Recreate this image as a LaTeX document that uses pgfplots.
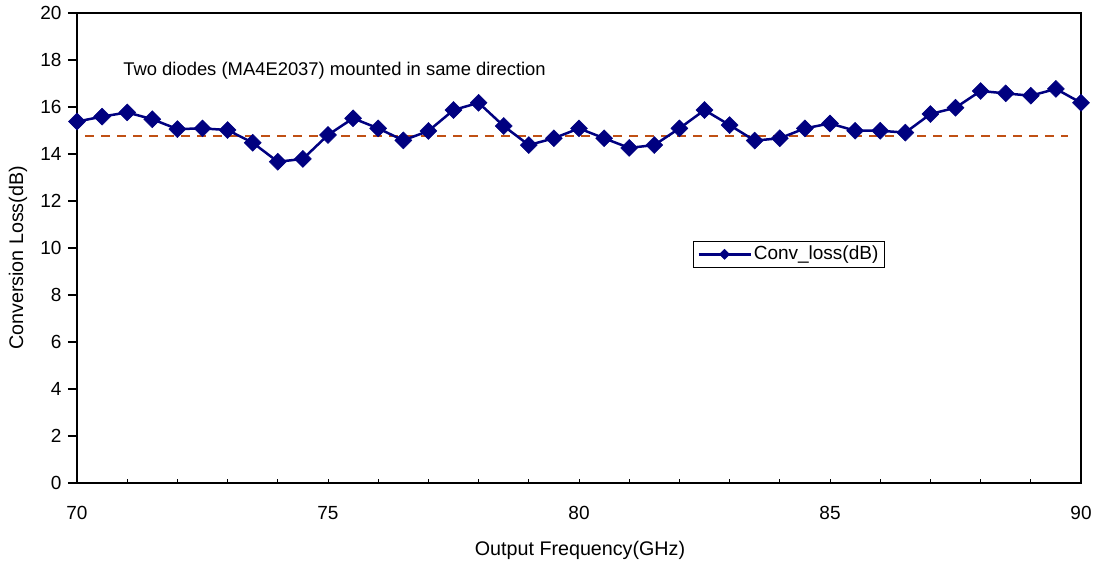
\documentclass[border=0pt]{standalone}
\usepackage{fontspec}
\setmainfont{Liberation Sans}
\usepackage{pgfplots}
\pgfplotsset{compat=1.18}
\definecolor{lossblue}{RGB}{0,0,128}
\definecolor{meanline}{RGB}{192,80,20}

% Conversion loss against output frequency
\pgfplotstableread{
f     loss
70.0  15.38
70.5  15.59
71.0  15.77
71.5  15.48
72.0  15.06
72.5  15.09
73.0  15.02
73.5  14.48
74.0  13.67
74.5  13.79
75.0  14.81
75.5  15.52
76.0  15.09
76.5  14.58
77.0  14.98
77.5  15.87
78.0  16.18
78.5  15.19
79.0  14.38
79.5  14.67
80.0  15.09
80.5  14.67
81.0  14.26
81.5  14.38
82.0  15.09
82.5  15.87
83.0  15.23
83.5  14.57
84.0  14.67
84.5  15.09
85.0  15.30
85.5  14.99
86.0  14.99
86.5  14.91
87.0  15.70
87.5  15.97
88.0  16.68
88.5  16.58
89.0  16.48
89.5  16.77
90.0  16.18
}\convloss

\begin{document}
\fontsize{19}{23}\selectfont
\begin{tikzpicture}
\begin{axis}[
  name=main,
  scale only axis,
  width=1004pt, height=470pt,
  xmin=70, xmax=90, ymin=0, ymax=20,
  xtick={70,75,...,90},
  minor xtick={70,71,...,90},
  ytick={0,2,...,20},
  /pgf/number format/assume math mode=true,
  tick pos=left,
  tick align=inside,
  major tick length=9pt,
  minor tick length=4.3pt,
  major x tick style={draw=none},
  minor x tick style={line width=1pt, black},
  major y tick style={line width=1.2pt, black, xshift=-9pt},
  axis line style={line width=2.2pt, black},
  yticklabel style={xshift=-9pt},
  xticklabel style={yshift=-17pt},
  tick label style={font=\fontsize{19}{23}\selectfont},
  xlabel={Output Frequency(GHz)},
  ylabel={Conversion Loss(dB)},
  label style={font=\fontsize{19.7}{23}\selectfont},
  xlabel style={at={(axis description cs:0.501,-0.1426)}, anchor=center},
  ylabel style={at={(axis description cs:-0.0588,0.479)}, anchor=center, rotate=0},
  legend style={at={(axis description cs:0.709,0.4866)}, anchor=center,
    draw=black, line width=0.8pt, inner xsep=4pt, inner ysep=3pt,
    font=\fontsize{19}{23}\selectfont},
  legend image code/.code={%
    \draw[#1, mark repeat=2, mark phase=2, mark size=3.6pt]
      plot coordinates {(0pt,0pt) (26pt,0pt) (52pt,0pt)};},
  clip=false,
]
\addplot[meanline, line width=2pt, dash pattern=on 9pt off 7pt, forget plot]
  coordinates {(70.16,14.77) (89.74,14.77)};
\addplot[lossblue, line width=2.5pt, mark=square*,
  mark options={rotate=45, solid, fill=lossblue, line width=0.5pt},
  mark size=6pt] table[x=f, y=loss] {\convloss};
\addlegendentry{Conv\_loss(dB)}
\node[anchor=west, inner sep=0pt, font=\fontsize{18.4}{22}\selectfont]
  at (axis cs:70.92,17.53)
  {Two diodes (MA4E2037) mounted in same direction};
\end{axis}
\pgfresetboundingbox
\path[use as bounding box] ([shift={(-77pt,-80pt)}]main.south west)
  rectangle ([shift={(1023pt,483pt)}]main.south west);
\end{tikzpicture}
\end{document}
